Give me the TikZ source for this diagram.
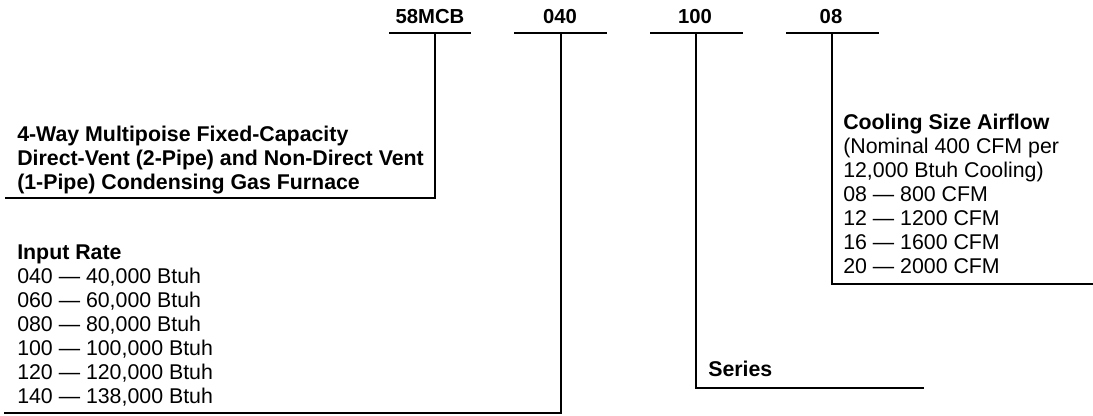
\documentclass[tikz,border=0pt]{standalone}
\usepackage{fontspec}
\setmainfont{Liberation Sans}
\begin{document}
\begin{tikzpicture}[x=0.75pt,y=-0.75pt,
  codelabel/.style={font=\fontsize{15.2pt}{18pt}\selectfont\bfseries, inner sep=0pt, anchor=center},
  block/.style={font=\fontsize{16pt}{18pt}\selectfont, align=left, inner sep=0pt, anchor=north west},
  wire/.style={line width=1.7pt, line cap=rect}]
\useasboundingbox (0,0) rectangle (1093,415);
% code letters
\node[codelabel] (c1) at (430,17) {58MCB};
\node[codelabel] (c2) at (560,17) {040};
\node[codelabel] (c3) at (695,17) {100};
\node[codelabel] (c4) at (831,17) {08};
% underlines
\coordinate (u1l) at (390,33); \coordinate (u1r) at (470,33); \coordinate (u1m) at (435,33);
\coordinate (u2l) at (515,33); \coordinate (u2r) at (606,33); \coordinate (u2m) at (561,33);
\coordinate (u3l) at (651,33); \coordinate (u3r) at (742,33); \coordinate (u3m) at (696,33);
\coordinate (u4l) at (787,33); \coordinate (u4r) at (878,33); \coordinate (u4m) at (832,33);
\draw[wire] (u1l) -- (u1r);
\draw[wire] (u2l) -- (u2r);
\draw[wire] (u3l) -- (u3r);
\draw[wire] (u4l) -- (u4r);
% description blocks
\node[block] (d1) at (17,126) {\bfseries 4-Way Multipoise Fixed-Capacity\\\bfseries Direct-Vent (2-Pipe) and Non-Direct Vent\\\bfseries (1-Pipe) Condensing Gas Furnace};
\node[block] (d2) at (17,245) {\bfseries Input Rate\\040 — 40,000 Btuh\\060 — 60,000 Btuh\\080 — 80,000 Btuh\\100 — 100,000 Btuh\\120 — 120,000 Btuh\\140 — 138,000 Btuh};
\node[block] (d3) at (708,361) {\bfseries Series};
\node[block] (d4) at (843,114) {\bfseries Cooling Size Airflow\\(Nominal 400 CFM per\\12,000 Btuh Cooling)\\08 — 800 CFM\\12 — 1200 CFM\\16 — 1600 CFM\\20 — 2000 CFM};
% connectors
\coordinate (k1) at (435,198); \coordinate (e1) at (6,198);
\coordinate (k2) at (561,413); \coordinate (e2) at (5,413);
\coordinate (k3) at (696,388); \coordinate (e3) at (923,388);
\coordinate (k4) at (832,284); \coordinate (e4) at (1093,284);
\draw[wire] (u1m) -- (k1) -- (e1);
\draw[wire] (u2m) -- (k2) -- (e2);
\draw[wire] (u3m) -- (k3) -- (e3);
\draw[wire] (u4m) -- (k4) -- (e4);
\end{tikzpicture}
\end{document}
